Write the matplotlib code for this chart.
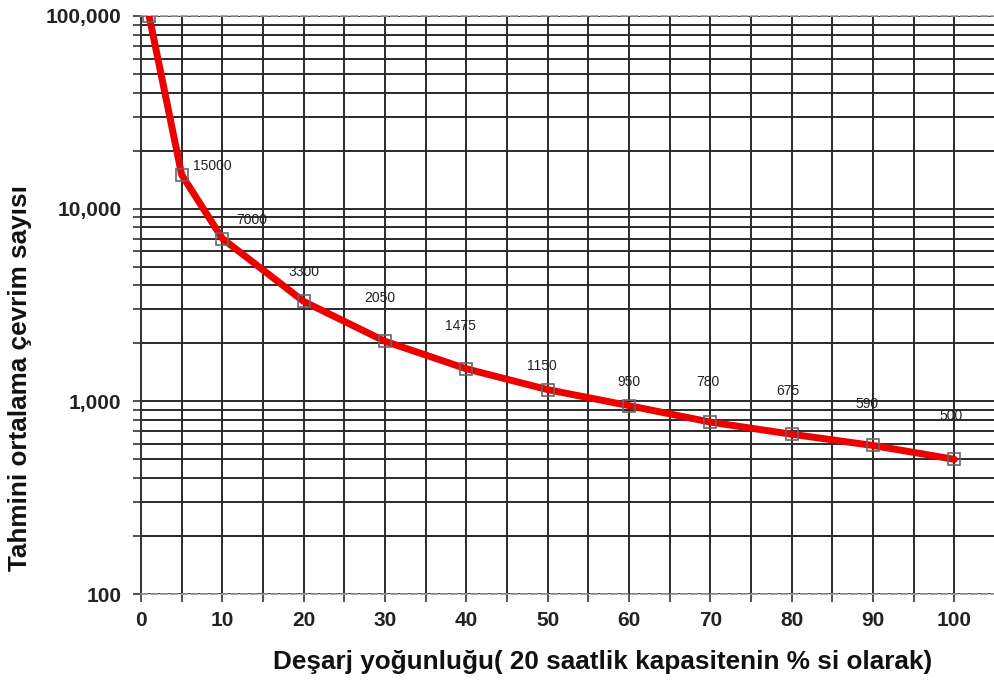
import matplotlib.pyplot as plt
from matplotlib.ticker import FixedLocator, LogLocator, NullFormatter

plt.rcParams['font.family'] = ['Liberation Sans', 'DejaVu Sans']

# data
dod = [1, 5, 10, 20, 30, 40, 50, 60, 70, 80, 90, 100]
cycles = [100000, 15000, 7000, 3300, 2050, 1475, 1150, 950, 780, 675, 590, 500]
labels = ["", "15000", "7000", "3300", "2050", "1475", "1150", "950", "780", "675", "590", "500"]
xticks = [0, 10, 20, 30, 40, 50, 60, 70, 80, 90, 100]
yticks = [100, 1000, 10000, 100000]
yticklabels = ["100", "1,000", "10,000", "100,000"]

# label offsets in points (dx, dy)
offs = [(0, 0), (8, 6), (10, 13), (0, 21), (-4, 31), (-4, 31), (-4, 17), (0, 17), (-2, 29), (-3, 31), (-4, 30), (-2, 31)]

fig = plt.figure(figsize=(9.95, 6.86), dpi=100)
ax = fig.add_axes([141/995, 92/686, 854/995, 578/686])

ax.set_yscale("log")
ax.set_xlim(0, 105)
ax.set_ylim(100, 100000)

ax.xaxis.set_major_locator(FixedLocator(xticks))
ax.xaxis.set_minor_locator(FixedLocator(list(range(5, 105, 10))))
ax.yaxis.set_major_locator(FixedLocator(yticks))
ax.yaxis.set_minor_locator(LogLocator(base=10, subs=range(2, 10)))
ax.yaxis.set_minor_formatter(NullFormatter())
ax.set_xticklabels([str(t) for t in xticks])
ax.set_yticklabels(yticklabels)

ax.grid(True, which="both", color="#2a2a2a", linewidth=1.4)
ax.set_axisbelow(True)
ax.tick_params(which="both", direction="out", length=6, width=1.2, color="#333333")
ax.tick_params(axis="both", which="major", labelsize=15)
ax.tick_params(axis="y", which="major", pad=8)
ax.tick_params(axis="x", which="major", pad=6)
for lab in ax.get_xticklabels() + ax.get_yticklabels():
    lab.set_fontweight("bold")
    lab.set_color("#222222")

ax.spines["right"].set_visible(False)
for s in ["top", "bottom"]:
    ax.spines[s].set_linestyle((0, (4, 2)))
    ax.spines[s].set_color("#999999")
    ax.spines[s].set_linewidth(1.2)
ax.spines["left"].set_color("#333333")
ax.spines["left"].set_linewidth(1.4)

ax.plot(dod, cycles, color="#ee0000", linewidth=5, solid_capstyle="round",
        solid_joinstyle="round", zorder=3)
ax.plot(dod, cycles, linestyle="none", marker="s", markersize=8,
        markerfacecolor="none", markeredgecolor="#666666", markeredgewidth=1.2, zorder=4)

for x, y, t, (dx, dy) in zip(dod, cycles, labels, offs):
    if t:
        ax.annotate(t, (x, y), xytext=(dx, dy), textcoords="offset points",
                    ha="left" if x <= 10 else "center", va="center",
                    fontsize=10, color="#222222", zorder=5)

ax.set_xlabel("Deşarj yoğunluğu( 20 saatlik kapasitenin % si olarak)",
              fontsize=18.8, fontweight="bold", color="#111111", va="center")
ax.xaxis.set_label_coords(0.541, -0.118)
ax.set_ylabel("Tahmini ortalama çevrim sayısı",
              fontsize=18.8, fontweight="bold", color="#111111", va="center")
ax.yaxis.set_label_coords(-0.142, 0.374)

fig.savefig("out.png", dpi=100)
